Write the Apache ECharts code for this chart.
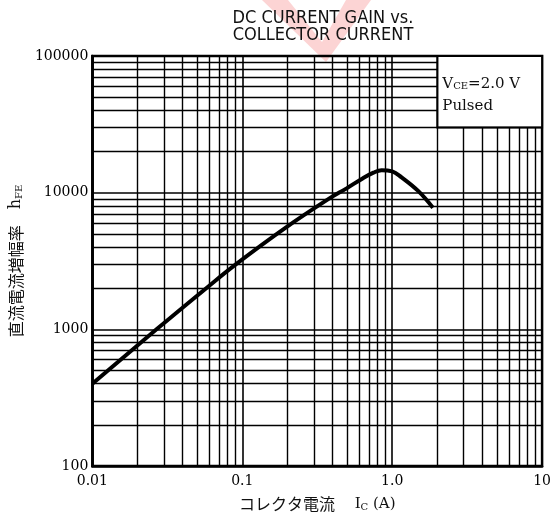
<!DOCTYPE html>
<html>
<head>
<meta charset="utf-8">
<script src="https://cdn.jsdelivr.net/npm/echarts@6/dist/echarts.min.js"></script>
<style>
html,body{margin:0;padding:0;background:#fff;}
#chart{width:554px;height:518px;}
</style>
</head>
<body>
<div id="chart"></div>
<script>
// Collector current Ic (A) and DC current gain hFE
var icValues  = [0.01, 0.0268, 0.0575, 0.091, 0.195, 0.377, 0.5, 0.627, 0.75, 0.85, 1.0, 1.15, 1.49, 1.87];
var hfeValues = [400, 1000, 2000, 3000, 5550, 9000, 10800, 12600, 14000, 14600, 14300, 13000, 10300, 7760];

// Axis ticks
var xTickValues = [0.01, 0.1, 1, 10];
var xTickLabels = ['0.01', '0.1', '1.0', '10'];
var yTickValues = [100, 1000, 10000, 100000];
var yTickLabels = ['100', '1000', '10000', '100000'];

// Minor grid lines of the log paper (2..9 of each decade)
var xMinorGrid = [0.02,0.03,0.04,0.05,0.06,0.07,0.08,0.09,
                  0.2,0.3,0.4,0.5,0.6,0.7,0.8,0.9,
                  2,3,4,5,6,7,8,9];
var yMinorGrid = [200,300,400,500,600,700,800,900,
                  2000,3000,4000,5000,6000,7000,8000,9000,
                  20000,30000,40000,50000,60000,70000,80000,90000];

// Condition box extent (data coordinates)
var boxX = [2, 10];
var boxY = [30000, 100000];

var xMin = 0.01, xMax = 10, yMin = 100, yMax = 100000;

var chart = echarts.init(document.getElementById('chart'));

function labelFor(values, labels) {
  return function (v) {
    for (var i = 0; i < values.length; i++) {
      if (Math.abs(Math.log10(v) - Math.log10(values[i])) < 1e-6) return labels[i];
    }
    return '';
  };
}

// Grid lines stop at the condition box
var gridLineData = [];
xMinorGrid.forEach(function (v) {
  var top = (v > boxX[0]) ? boxY[0] : yMax;
  gridLineData.push([{ coord: [v, yMin] }, { coord: [v, top] }]);
});
yMinorGrid.forEach(function (v) {
  var right = (v > boxY[0]) ? boxX[0] : xMax;
  gridLineData.push([{ coord: [xMin, v] }, { coord: [right, v] }]);
});

var curve = icValues.map(function (x, i) { return [x, hfeValues[i]]; });

var serif = "'DejaVu Serif', 'Liberation Serif', serif";
var cjk = "'Noto Sans CJK JP', sans-serif";

chart.setOption({
  animation: false,
  backgroundColor: '#fff',
  title: {
    text: 'DC CURRENT GAIN vs.\nCOLLECTOR CURRENT',
    left: 318,
    top: 5,
    textAlign: 'center',
    textStyle: {
      fontFamily: "'Liberation Sans Narrow', 'DejaVu Sans Condensed', 'Liberation Sans', sans-serif",
      fontSize: 18,
      fontWeight: 'normal',
      color: '#111',
      lineHeight: 17
    }
  },
  graphic: [{
    type: 'polygon',
    z: -10,
    shape: { points: [[262,0],[288,0],[322,42],[346,0],[371,0],[326,62]] },
    style: { fill: 'rgba(245,120,120,0.32)' }
  }],
  grid: {
    left: 92, right: 9, top: 56, bottom: 52,
    show: true, borderColor: '#000', borderWidth: 2.5, backgroundColor: 'transparent'
  },
  xAxis: {
    type: 'log', logBase: 10, min: xMin, max: xMax,
    name: '{j|コレクタ電流}{s|　 I}{sub|C}{s| (A)}',
    nameLocation: 'middle', nameGap: 30,
    nameTextStyle: {
      rich: {
        j: { fontFamily: cjk, fontSize: 16, color: '#111' },
        s: { fontFamily: serif, fontSize: 15, color: '#111' },
        sub: { fontFamily: serif, fontSize: 10, color: '#111', verticalAlign: 'bottom', padding: [6,0,0,0] }
      }
    },
    axisLine: { show: true, lineStyle: { color: '#000', width: 2.5 } },
    axisTick: { show: false },
    axisLabel: {
      margin: 8, color: '#000', fontFamily: serif, fontSize: 14,
      formatter: labelFor(xTickValues, xTickLabels)
    },
    splitLine: { show: true, lineStyle: { color: '#000', width: 1.6 } }
  },
  yAxis: {
    type: 'log', logBase: 10, min: yMin, max: yMax,
    name: '{j|直流電流増幅率}{s|　h}{sub|FE}',
    nameLocation: 'middle', nameGap: 68, nameRotate: 90,
    nameTextStyle: {
      rich: {
        j: { fontFamily: cjk, fontSize: 16, color: '#111' },
        s: { fontFamily: serif, fontSize: 16, color: '#111' },
        sub: { fontFamily: serif, fontSize: 10, color: '#111', padding: [6,0,0,0] }
      }
    },
    axisLine: { show: true, lineStyle: { color: '#000', width: 2.5 } },
    axisTick: { show: false },
    axisLabel: {
      margin: 4, color: '#000', fontFamily: serif, fontSize: 14,
      formatter: labelFor(yTickValues, yTickLabels)
    },
    splitLine: { show: true, lineStyle: { color: '#000', width: 1.6 } }
  },
  series: [
    {
      type: 'line', z: 1, data: [], silent: true,
      markLine: {
        silent: true, symbol: 'none', animation: false,
        label: { show: false },
        lineStyle: { color: '#000', width: 1.4, type: 'solid' },
        emphasis: { disabled: true },
        data: gridLineData
      }
    },
    {
      type: 'line', z: 3, data: [], silent: true,
      markArea: {
        silent: true,
        itemStyle: { color: '#fff', opacity: 1, borderColor: '#000', borderWidth: 2 },
        label: {
          show: true, position: 'insideTopLeft', distance: 6,
          padding: [12, 0, 0, 0],
          formatter: '{a|V}{sub|CE}{a|=2.0 V}\n{a|Pulsed}',
          rich: {
            a: { fontFamily: serif, fontSize: 15, color: '#111', lineHeight: 22 },
            sub: { fontFamily: serif, fontSize: 10, color: '#111', padding: [5,0,0,0], lineHeight: 22 }
          }
        },
        data: [[{ coord: [boxX[0], boxY[1]] }, { coord: [boxX[1], boxY[0]] }]]
      }
    },
    {
      type: 'line', z: 4, data: curve, smooth: 0.4, showSymbol: false, silent: true,
      lineStyle: { color: '#000', width: 4 }
    }
  ]
});
</script>
</body>
</html>
